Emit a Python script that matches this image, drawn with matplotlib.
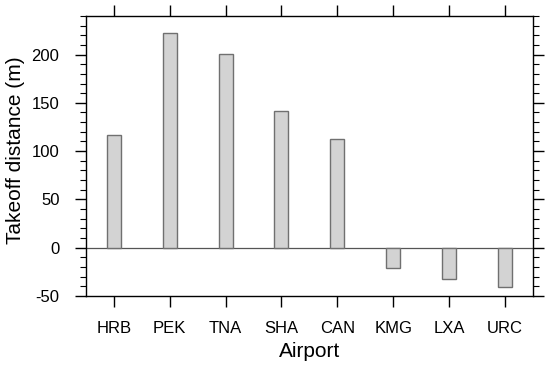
import numpy as np
import matplotlib
matplotlib.use("Agg")
import matplotlib.pyplot as plt
from matplotlib.ticker import MultipleLocator

plt.rcParams['font.family'] = ['Liberation Sans', 'DejaVu Sans']
plt.rcParams['axes.unicode_minus'] = False

airports = ["HRB", "PEK", "TNA", "SHA", "CAN", "KMG", "LXA", "URC"]
takeoff = [117, 222, 201, 142, 113, -21, -32, -41]

fig = plt.figure(figsize=(5.5, 3.7), dpi=100)
ax = fig.add_axes([0.156, 0.2, 0.813, 0.757])

x = np.arange(1, len(airports) + 1)
ax.bar(x, takeoff, width=0.25, color='#d3d3d3', edgecolor='#707070', linewidth=1.0, zorder=2)
ax.axhline(0, color='#555555', linewidth=0.9, zorder=1)

ax.set_xlim(0.5, 8.5)
ax.set_ylim(-50, 240)
ax.set_xticks(x)
ax.set_xticklabels(airports)
ax.yaxis.set_major_locator(MultipleLocator(50))
ax.yaxis.set_minor_locator(MultipleLocator(10))

ax.tick_params(axis='both', which='major', direction='out', length=8, width=1,
               labelsize=12, top=True, right=True)
ax.tick_params(axis='y', which='minor', direction='out', length=4, width=0.8,
               left=True, right=True)
ax.tick_params(axis='x', which='minor', bottom=False, top=False)
ax.tick_params(axis='x', pad=10)
ax.tick_params(axis='y', pad=11)
for s in ax.spines.values():
    s.set_linewidth(1.0)

ax.set_xlabel("Airport", fontsize=15, labelpad=4)
ax.set_ylabel("Takeoff distance (m)", fontsize=15)
ax.yaxis.set_label_coords(-0.136, 0.52)

fig.savefig("out.png", dpi=100)
